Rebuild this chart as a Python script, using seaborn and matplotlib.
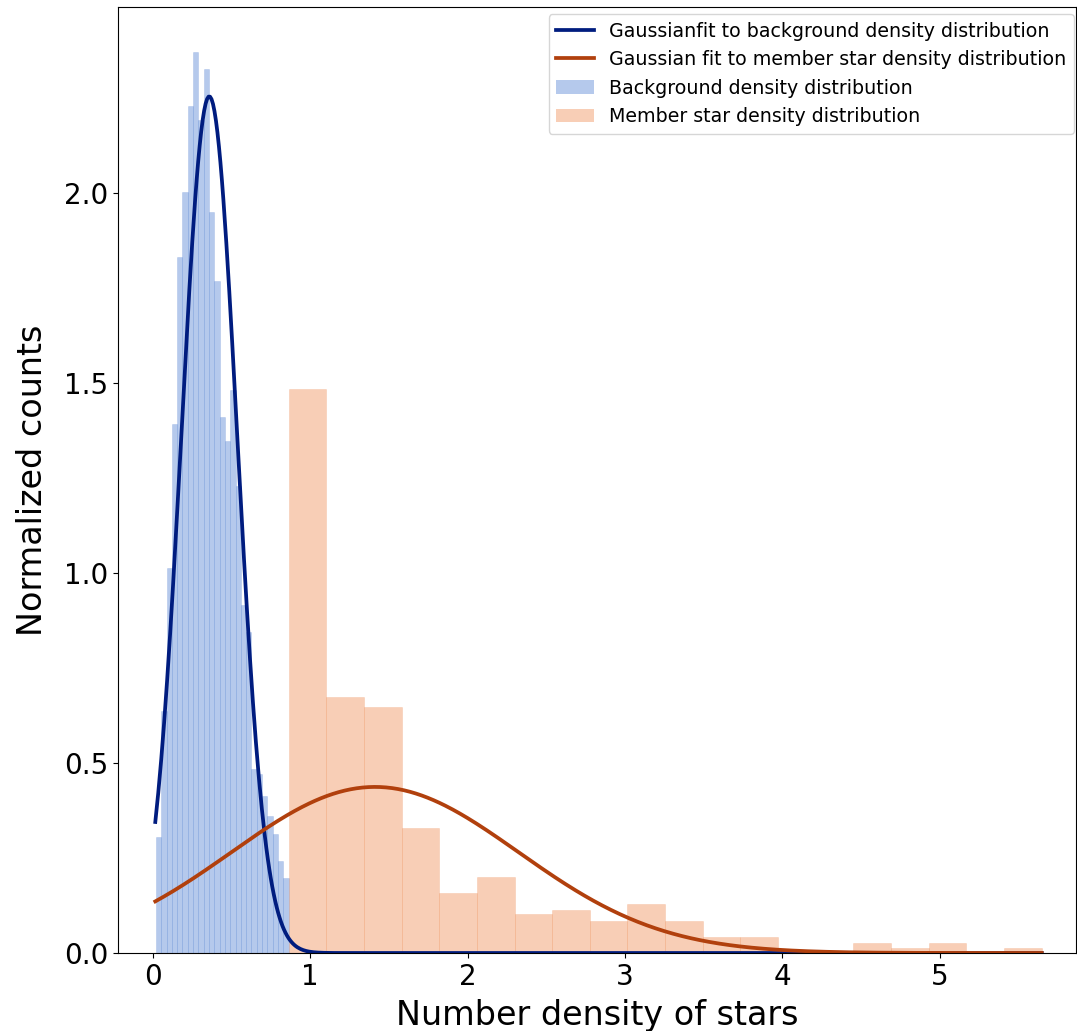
import numpy as np
import pandas as pd
import matplotlib
matplotlib.use("Agg")
import matplotlib.pyplot as plt
import seaborn as sns
from matplotlib.colors import to_rgba
from matplotlib.lines import Line2D
from matplotlib.patches import Patch

# ---------------- data ----------------
# Background density histogram (normalized), 25 equal bins
bg_bin_range = (0.019, 0.862)
bg_heights = [0.305, 0.637, 1.013, 1.392, 1.832, 2.003, 2.229, 2.371, 2.192,
              2.326, 1.950, 1.768, 1.411, 1.347, 1.482, 1.230, 0.916, 0.845,
              0.484, 0.470, 0.413, 0.360, 0.314, 0.242, 0.197]

# Member star density histogram (normalized), 20 equal bins
mem_bin_range = (0.862, 5.648)
mem_heights = [1.484, 0.674, 0.647, 0.329, 0.158, 0.200, 0.103, 0.113, 0.084,
               0.129, 0.084, 0.042, 0.042, 0.0, 0.0, 0.026, 0.013, 0.026,
               0.0, 0.013]

# Gaussian fit parameters (mean, sigma)
bg_fit = (0.358, 0.177)
mem_fit = (1.411, 0.913)
curve_range = (0.015, 5.648)

labels = ["Gaussianfit to background density distribution",
          "Gaussian fit to member star density distribution",
          "Background density distribution",
          "Member star density distribution"]
xlabel = "Number density of stars"
ylabel = "Normalized counts"

# ---------------- styling ----------------
blue_fill = "#4878d0"   # seaborn muted blue
orange_fill = "#ee854a" # seaborn muted orange
blue_line = "#001c7f"   # seaborn dark blue
orange_line = "#b1400d" # seaborn dark orange
alpha = 0.4

fig = plt.figure(figsize=(10.77, 10.31), dpi=100)
ax = fig.add_axes([118 / 1077, 1 - 953 / 1031, (1076 - 118) / 1077, (953 - 7) / 1031])


def draw_hist(heights, rng, color):
    n = len(heights)
    edges = np.linspace(rng[0], rng[1], n + 1)
    centers = (edges[:-1] + edges[1:]) / 2
    df = pd.DataFrame({"x": centers, "w": heights})
    sns.histplot(data=df, x="x", weights="w", bins=n, binrange=rng,
                 stat="count", color=color, alpha=alpha,
                 edgecolor=to_rgba(color, 0.3), linewidth=0.4, ax=ax)


draw_hist(bg_heights, bg_bin_range, blue_fill)
draw_hist(mem_heights, mem_bin_range, orange_fill)

xs = np.linspace(curve_range[0], curve_range[1], 600)


def gauss(x, mu, s):
    return np.exp(-0.5 * ((x - mu) / s) ** 2) / (s * np.sqrt(2 * np.pi))


sns.lineplot(x=xs, y=gauss(xs, *bg_fit), color=blue_line, lw=2.7, ax=ax)
sns.lineplot(x=xs, y=gauss(xs, *mem_fit), color=orange_line, lw=2.7, ax=ax)

ax.set_xlim(-0.222, 5.866)
ax.set_ylim(0, 2.489)
ax.set_xticks([0, 1, 2, 3, 4, 5])
ax.set_yticks([0.0, 0.5, 1.0, 1.5, 2.0])
ax.set_yticklabels(["0.0", "0.5", "1.0", "1.5", "2.0"])
ax.tick_params(labelsize=20)
ax.set_xlabel(xlabel, fontsize=24, labelpad=6)
ax.set_ylabel(ylabel, fontsize=24, labelpad=11)

handles = [Line2D([], [], color=blue_line, lw=2.7),
           Line2D([], [], color=orange_line, lw=2.7),
           Patch(facecolor=to_rgba(blue_fill, alpha), edgecolor="none"),
           Patch(facecolor=to_rgba(orange_fill, alpha), edgecolor="none")]
ax.legend(handles=handles, labels=labels, loc="upper right",
          bbox_to_anchor=(1074 / 1077, 1 - 14 / 1031),
          bbox_transform=fig.transFigure, borderaxespad=0, fontsize=13.65)

fig.savefig("out.png", dpi=100)
